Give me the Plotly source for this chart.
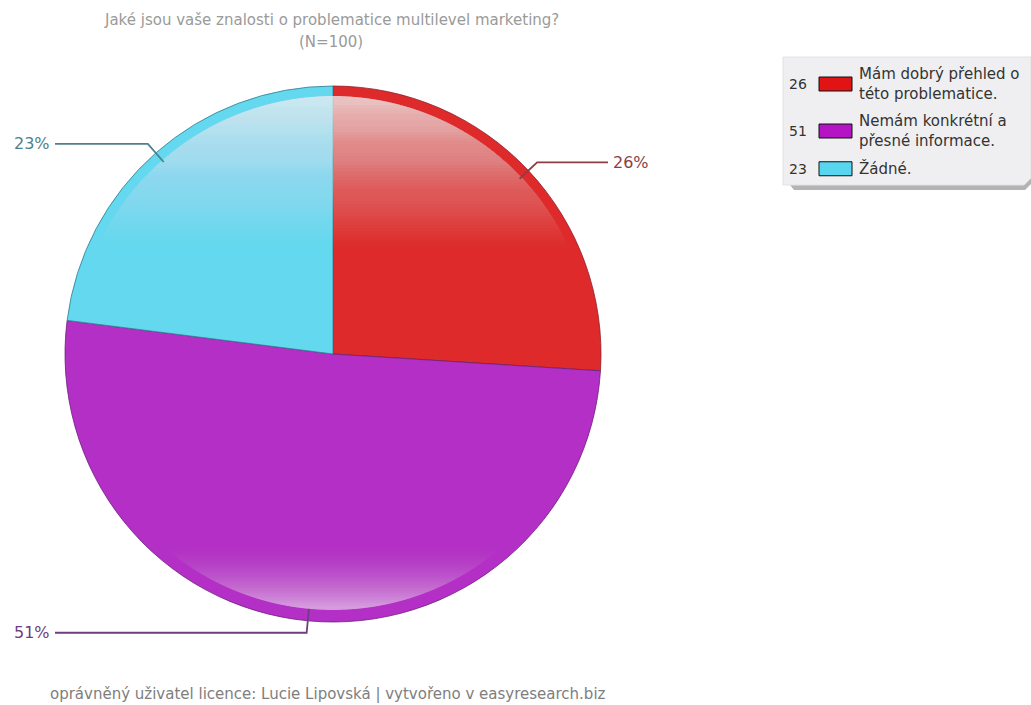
import math
import plotly.graph_objects as go

W, H = 1031, 705

# ---------------- data ----------------
categories = ["Mám dobrý přehled o této problematice.",
              "Nemám konkrétní a přesné informace.",
              "Žádné."]
legend_lines = [["Mám dobrý přehled o", "této problematice."],
                ["Nemám konkrétní a", "přesné informace."],
                ["Žádné."]]
counts = [26, 51, 23]

title_text = "Jaké jsou vaše znalosti o problematice multilevel marketing?"
subtitle_text = "(N=100)"
footer_text = "oprávněný uživatel licence: Lucie Lipovská | vytvořeno v easyresearch.biz"

# ---------------- style ----------------
slice_colors = ["#de2a2a", "#b32fc5", "#63d8ee"]
edge_colors = ["#8e1f2a", "#6d1e7e", "#2f7d8f"]
legend_colors = ["#e01414", "#b414c4", "#58d6ef"]
label_colors = ["#8c3f43", "#6f3d80", "#4f808b"]
FONT = "DejaVu Sans"

CX, CY, R = 333, 354, 268


def px(x):
    return x / W


def py(y):
    return 1 - y / H


total = sum(counts)
pct_labels = [f"{round(100 * v / total)}%" for v in counts]

fig = go.Figure()
fig.add_trace(go.Pie(
    labels=categories, values=counts, sort=False,
    direction="clockwise", rotation=0,
    marker=dict(colors=slice_colors, line=dict(color=edge_colors, width=0.8)),
    textinfo="none", hoverinfo="label+value+percent", showlegend=False,
    domain=dict(x=[px(CX - R), px(CX + R)], y=[py(CY + R), py(CY - R)]),
))

shapes = []
annotations = []


def arc_path(cx, cy, r, t0, t1, n=72):
    pts = []
    for i in range(n + 1):
        t = t0 + (t1 - t0) * i / n
        pts.append((cx + r * math.sin(t), cy - r * math.cos(t)))
    return "M " + " L ".join(f"{px(x):.5f},{py(y):.5f}" for x, y in pts) + " Z"


# ---- glossy top highlight (stacked translucent caps) ----
gcx, gcy, gr = CX, CY + 2, R - 8
y_top, y_end, step = gcy - gr, 250.0, 3.0
nb = int((y_end - y_top) / step)
ys = [y_top + step * (k + 1) for k in range(nb)]
A = []
for k in range(nb):
    ym = y_top + step * (k + 0.5)
    A.append(0.8 * max(0.0, (y_end - ym) / (y_end - y_top)) ** 1.1)
T = [1 - a for a in A] + [1.0]
for k in range(nb):
    a = 1 - T[k] / T[k + 1]
    phi = math.acos(max(-1, min(1, (gcy - ys[k]) / gr)))
    shapes.append(dict(type="path", xref="paper", yref="paper", layer="above",
                       path=arc_path(gcx, gcy, gr, -phi, phi),
                       fillcolor=f"rgba(255,255,255,{a:.4f})", line=dict(width=0)))

# ---- bottom reflection ----
bcx, bcy, br = CX, CY - 4, R - 8
yb0, yb1, bstep = 538.0, bcy + br, 2.5
nbb = int((yb1 - yb0) / bstep)
prevT = 1.0
for k in range(nbb):
    yk = yb0 + bstep * k
    ym = yk + bstep * 0.5
    Ak = 0.6 * ((ym - yb0) / (yb1 - yb0)) ** 1.7
    Tk = 1 - Ak
    a = 1 - Tk / prevT
    prevT = Tk
    psi = math.acos(max(-1, min(1, (yk - bcy) / br)))
    shapes.append(dict(type="path", xref="paper", yref="paper", layer="above",
                       path=arc_path(bcx, bcy, br, math.pi - psi, math.pi + psi),
                       fillcolor=f"rgba(255,255,255,{a:.4f})", line=dict(width=0)))

# ---- leader lines & percentage labels ----
cum = 0
for i, v in enumerate(counts):
    m = (cum + v / 2) / total
    cum += v
    th = 2 * math.pi * m
    xi, yi = CX + 256 * math.sin(th), CY - 256 * math.cos(th)
    xe, ye = CX + 280 * math.sin(th), CY - 280 * math.cos(th)
    right = math.sin(th) >= 0
    xend = 608 if right else 55
    shapes.append(dict(type="path", xref="paper", yref="paper", layer="above",
                       path=f"M {px(xi):.5f},{py(yi):.5f} L {px(xe):.5f},{py(ye):.5f} L {px(xend):.5f},{py(ye):.5f}",
                       line=dict(color=label_colors[i], width=1.8)))
    annotations.append(dict(x=px(xend + (3 if right else -3)), y=py(ye), xref="paper", yref="paper",
                            text=pct_labels[i], showarrow=False,
                            xanchor="left" if right else "right", yanchor="middle",
                            font=dict(family=FONT, size=16, color=label_colors[i])))

# ---- legend box ----
LX0, LY0, LX1, LY1 = 783, 57, 1031, 185
shapes.append(dict(type="path", xref="paper", yref="paper", layer="above",
                   path=(f"M {px(790)},{py(LY1)} L {px(1024)},{py(LY1)} L {px(1031)},{py(178)} "
                         f"L {px(1031)},{py(184)} L {px(1025)},{py(190)} L {px(794)},{py(190)} Z"),
                   fillcolor="#b4b4b4", line=dict(width=0)))
shapes.append(dict(type="path", xref="paper", yref="paper", layer="above",
                   path=(f"M {px(LX0)},{py(LY0)} L {px(LX1)},{py(LY0)} L {px(LX1)},{py(178)} "
                         f"L {px(1024)},{py(LY1)} L {px(LX0)},{py(LY1)} Z"),
                   fillcolor="#efeff1", line=dict(color="#e2e2e4", width=1)))

line_h = 18.5
ycur = 60.5
for i, v in enumerate(counts):
    nlines = len(legend_lines[i])
    hgt = nlines * line_h + 10
    yc = ycur + hgt / 2
    ycur += hgt
    annotations.append(dict(x=px(809), y=py(yc), xref="paper", yref="paper", text=str(v),
                            showarrow=False, xanchor="right", yanchor="middle",
                            font=dict(family=FONT, size=14, color="#333333")))
    shapes.append(dict(type="rect", xref="paper", yref="paper", layer="above",
                       x0=px(819), x1=px(852), y0=py(yc - 7), y1=py(yc + 7),
                       fillcolor=legend_colors[i], line=dict(color="#111111", width=1)))
    annotations.append(dict(x=px(857), y=py(yc), xref="paper", yref="paper",
                            text="<br>".join(legend_lines[i]), align="left",
                            showarrow=False, xanchor="left", yanchor="middle",
                            font=dict(family=FONT, size=15, color="#333333")))

# ---- titles ----
annotations.append(dict(x=px(331), y=py(20), xref="paper", yref="paper", text=title_text,
                        showarrow=False, xanchor="center", yanchor="middle",
                        font=dict(family=FONT, size=15, color="#9a9a9a")))
annotations.append(dict(x=px(331), y=py(42), xref="paper", yref="paper", text=subtitle_text,
                        showarrow=False, xanchor="center", yanchor="middle",
                        font=dict(family=FONT, size=15, color="#9a9a9a")))
annotations.append(dict(x=px(328), y=py(694), xref="paper", yref="paper", text=footer_text,
                        showarrow=False, xanchor="center", yanchor="middle",
                        font=dict(family=FONT, size=15, color="#7e7e7e")))

fig.update_layout(
    width=W, height=H, margin=dict(l=0, r=0, t=0, b=0),
    paper_bgcolor="white", plot_bgcolor="white",
    shapes=shapes, annotations=annotations, showlegend=False,
)

fig.write_html("out.html")
